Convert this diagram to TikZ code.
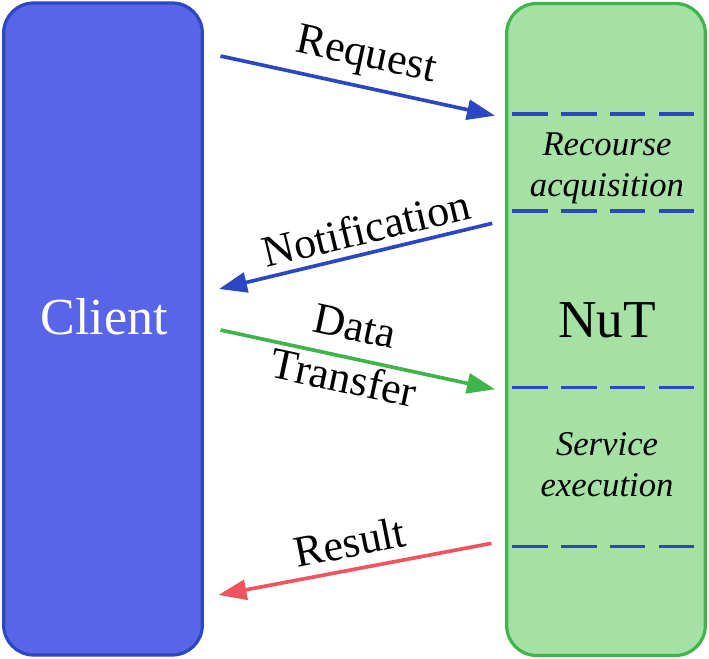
\documentclass[tikz,border=0pt]{standalone}
\usepackage{tikz}
\usepackage{fontspec}
\setmainfont{Liberation Serif}
\usetikzlibrary{arrows.meta}

\begin{document}
\begin{tikzpicture}[x=0.75pt,y=0.75pt,yscale=-1,xscale=1,
  lane/.style={draw, line width=2.4pt, rounded corners=22.5pt, minimum width=149pt, minimum height=489pt, inner sep=0pt},
  msg/.style={line width=2.75pt, -{Triangle[length=21pt,width=15pt]}},
  phase/.style={draw={rgb, 255:red, 43; green, 71; blue, 193 }, line width=2.9pt, dash pattern=on 26.7pt off 10pt},
  msgtext/.style={inner sep=0pt, font=\fontsize{33}{40}\selectfont},
  phasetext/.style={inner sep=0pt, align=center, font=\itshape\fontsize{26}{30.75}\selectfont}]
\useasboundingbox (0,0) rectangle (709,659);

%Shape: Rounded Rect
\node [lane, draw={rgb, 255:red, 43; green, 71; blue, 193 }, fill={rgb, 255:red, 89; green, 101; blue, 232 }] (client) at (103,329) {};
%Shape: Rounded Rect
\node [lane, draw={rgb, 255:red, 61; green, 181; blue, 75 }, fill={rgb, 255:red, 165; green, 225; blue, 165 }] (nut) at (606,329.5) {};

%Straight Lines
\draw [phase] (512,114) -- (707,114) ;
%Straight Lines
\draw [phase] (512,211) -- (707,211) ;
%Straight Lines
\draw [phase] (512,387.5) -- (707,387.5) ;
%Straight Lines
\draw [phase] (512,546.5) -- (707,546.5) ;

% Arrow ends
\coordinate (reqa) at (220.5,56) ;
\coordinate (reqb) at (495,115.7) ;
\coordinate (nota) at (492.3,223.3) ;
\coordinate (notb) at (219,289) ;
\coordinate (data) at (220.5,330) ;
\coordinate (datb) at (495,389.3) ;
\coordinate (resa) at (491.5,543.3) ;
\coordinate (resb) at (218.5,595) ;

%Straight Lines
\draw [msg, color={rgb, 255:red, 43; green, 71; blue, 193 }] (reqa) -- (reqb) ;
%Straight Lines
\draw [msg, color={rgb, 255:red, 43; green, 71; blue, 193 }] (nota) -- (notb) ;
%Straight Lines
\draw [msg, color={rgb, 255:red, 61; green, 181; blue, 75 }] (data) -- (datb) ;
%Straight Lines
\draw [msg, color={rgb, 255:red, 240; green, 85; blue, 95 }] (resa) -- (resb) ;

% Text Node
\node [inner sep=0pt, text=white, font=\fontsize{39}{47}\selectfont] (clientlbl) at (104,317) {Client};
% Text Node
\node [inner sep=0pt, font=\fontsize{40}{48}\selectfont] (nutlbl) at (607,320) {NuT};
% Text Node
\node [phasetext] (acqlbl) at (607,168.5) {Recourse\\acquisition};
% Text Node
\node [phasetext] (execlbl) at (607,465) {Service\\execution};
% Text Node
\node [msgtext, rotate=-12.3] (reqlbl) at (366,57.5) {Request};
% Text Node
\node [msgtext, rotate=13.6] (notlbl) at (366,228) {Notification};
% Text Node
\node [msgtext, rotate=-12.1, align=center] (datlbl) at (349.4,352.4) {Data\\Transfer};
% Text Node
\node [msgtext, rotate=11.3] (reslbl) at (349.5,542) {Result};

\end{tikzpicture}
\end{document}
